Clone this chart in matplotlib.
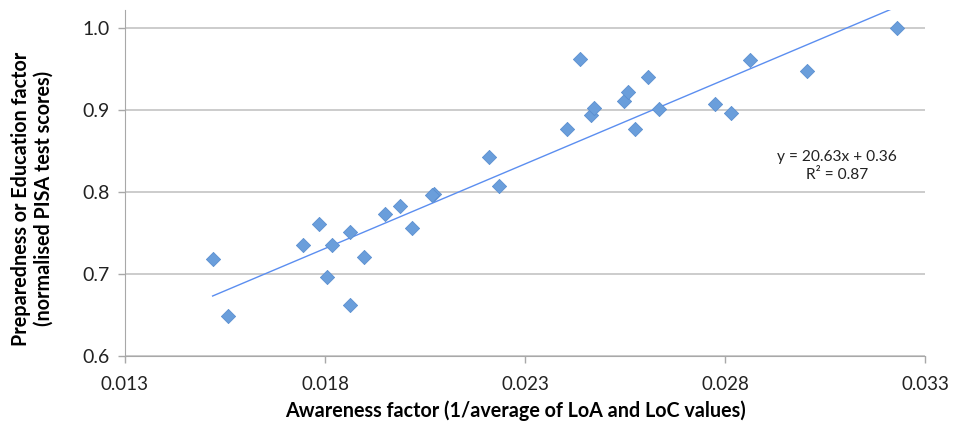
import matplotlib
matplotlib.use("Agg")
import matplotlib.pyplot as plt
import numpy as np

# ── data ────────────────────────────────────────────────────────────────────
awareness = [
    0.01519, 0.01558, 0.01746, 0.01786, 0.01804, 0.01818, 0.01863, 0.01863,
    0.01898, 0.01949, 0.01988, 0.02018, 0.02071, 0.02068, 0.02210, 0.02235,
    0.02404, 0.02438, 0.02464, 0.02471, 0.02548, 0.02556, 0.02575, 0.02607,
    0.02635, 0.02775, 0.02814, 0.02863, 0.03005, 0.03228,
]
preparedness = [
    0.719, 0.649, 0.735, 0.761, 0.696, 0.735, 0.751, 0.663,
    0.721, 0.773, 0.783, 0.756, 0.798, 0.796, 0.843, 0.807,
    0.877, 0.962, 0.894, 0.903, 0.911, 0.922, 0.877, 0.941,
    0.901, 0.907, 0.896, 0.961, 0.948, 1.000,
]
slope, intercept = 20.63, 0.36
r_squared = 0.87

x_ticks = [0.013, 0.018, 0.023, 0.028, 0.033]
y_ticks = [0.6, 0.7, 0.8, 0.9, 1.0]

FONT = ["Lato", "DejaVu Sans"]
GRID = "#BEBEBE"
POINT = "#6A9EDB"
LINE = "#5B8EF0"

fig = plt.figure(figsize=(9.54, 4.23), dpi=100)
fig.patch.set_facecolor("white")
ax = fig.add_axes([0.131, 0.158, 0.839, 0.818])

ax.scatter(awareness, preparedness, marker="D", s=52, color=POINT,
           edgecolors="#5B8FD0", linewidths=0.6, zorder=4)

# linear trendline across the data range (clipped at the top of the plot area)
xs = np.array([min(awareness), max(awareness)])
ax.plot(xs, slope * xs + intercept, color=LINE, linewidth=1.0, zorder=3)

ax.text(0.0308, 0.832, f"y = {slope:.2f}x + {intercept:.2f}\nR² = {r_squared:.2f}",
        ha="center", va="center", fontsize=11.2, family=FONT, color="#222222",
        linespacing=1.3)

ax.set_xlim(0.013, 0.033)
ax.set_ylim(0.6, 1.022)
ax.set_xticks(x_ticks)
ax.set_xticklabels([f"{v:.3f}" for v in x_ticks], family=FONT, fontsize=13.5)
ax.set_yticks(y_ticks)
ax.set_yticklabels([f"{v:.1f}" for v in y_ticks], family=FONT, fontsize=14)

ax.yaxis.grid(True, color=GRID, linewidth=1.1, zorder=0)
ax.set_axisbelow(True)
ax.spines[["top", "right"]].set_visible(False)
ax.spines[["left", "bottom"]].set_color("#A8A8A8")
ax.tick_params(axis="both", color="#A8A8A8", length=5, width=1, labelcolor="#222222")
ax.tick_params(axis="x", pad=9)
ax.tick_params(axis="y", pad=6)

fig.text(0.540, 0.030, "Awareness factor (1/average of LoA and LoC values)",
         ha="center", va="center", fontsize=14.2, fontweight="bold", family=FONT)
fig.text(0.034, 0.53, "Preparedness or Education factor\n(normalised PISA test scores)",
         ha="center", va="center", rotation=90, fontsize=14.2, fontweight="bold",
         family=FONT, linespacing=1.15)

fig.savefig("out.png", dpi=100, facecolor="white")
